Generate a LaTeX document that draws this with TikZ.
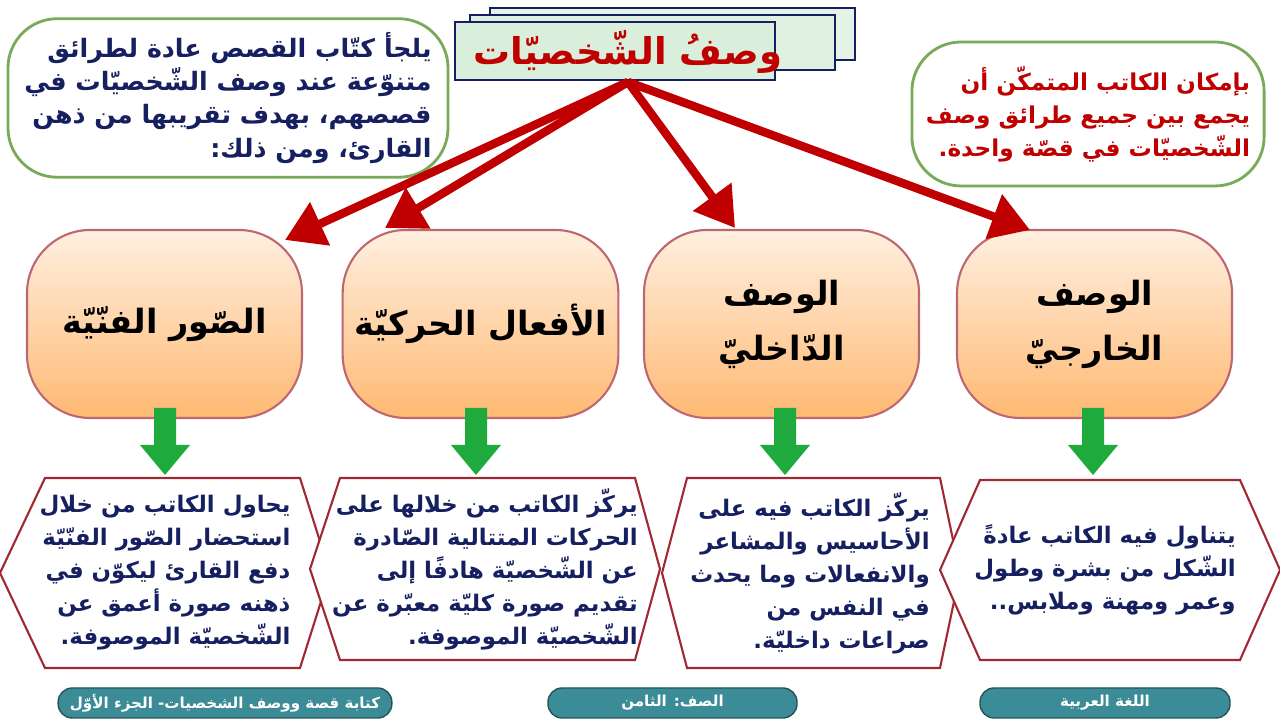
\documentclass[tikz,border=0pt]{standalone}
\usepackage{fontspec}
\newfontfamily\arabicfont[Script=Arabic]{DejaVu Sans}
\usetikzlibrary{%
        arrows.meta,
        positioning,
        shapes.geometric
    }
\TeXXeTstate=1
\newcommand{\AR}[1]{{\arabicfont\beginR #1\endR}}
\definecolor{navy}{RGB}{22, 32, 96}
\definecolor{darkred}{RGB}{192, 0, 0}
\definecolor{boxred}{RGB}{160, 40, 50}
\definecolor{leafgreen}{RGB}{120, 170, 90}
\definecolor{arrowgreen}{RGB}{30, 170, 60}
\definecolor{teal}{RGB}{60, 140, 152}
\definecolor{cardfill}{RGB}{218, 238, 220}
\tikzset{%
    note/.style={draw=leafgreen, line width=0.8pt, rounded corners=14pt,
        fill=white, font=\bfseries\fontsize{7.2}{9.4}\selectfont, align=right,
        inner sep=4pt},
    method/.style={draw=boxred!70, line width=0.6pt, rounded corners=18pt,
        top color=orange!12, bottom color=orange!55, minimum width=2.75cm,
        minimum height=1.88cm, font=\bfseries\fontsize{9.5}{15.6}\selectfont,
        align=center},
    link/.style={-{Triangle[length=11pt, width=13pt]}, darkred,
        line width=2.4pt},
    pill/.style={draw=teal!60!black, fill=teal, text=white, rounded corners=4pt,
        minimum height=0.3cm, font=\bfseries\fontsize{4.3}{5}\selectfont,
        inner ysep=1pt},
    hexa/.style={draw=boxred, line width=0.6pt, fill=white},
    hextext/.style={font=\bfseries\fontsize{6.5}{9.4}\selectfont, text=navy,
        align=right}
}

\begin{document}
\begin{tikzpicture}

    \useasboundingbox (0, 0) rectangle (12.8, 7.2);

    % Title cards
    \draw[navy, fill=cardfill!70] (4.9, 6.6) rectangle (8.55, 7.12);
    \draw[navy, fill=cardfill!85] (4.7, 6.5) rectangle (8.35, 7.05);
    \draw[navy, fill=cardfill] (4.55, 6.4) rectangle (7.75, 6.98);
    \node (title) at (6.28, 6.68)
        {\bfseries\fontsize{10.5}{13}\selectfont\color{darkred}\AR{وصفُ الشّخصيّات}};
    \coordinate (hub) at (6.28, 6.38);

    % Side notes
    \node[note, text=navy, minimum width=4.4cm, minimum height=1.47cm]
        (intro) at (2.28, 6.22)
        {\AR{يلجأ كتّاب القصص عادة لطرائق}\\\AR{متنوّعة عند وصف الشّخصيّات في}\\
         \AR{قصصهم، بهدف تقريبها من ذهن}\\\AR{القارئ، ومن ذلك:}};
    \node[note, text=darkred, minimum width=3.45cm, minimum height=1.44cm,
        font=\bfseries\fontsize{6.6}{9.4}\selectfont]
        (tip) at (10.88, 6.06)
        {\AR{بإمكان الكاتب المتمكّن أن}\\\AR{يجمع بين جميع طرائق وصف}\\
         \AR{الشّخصيّات في قصّة واحدة.}};

    % Methods
    \node[method] (images) at (1.645, 3.96) {\AR{الصّور الفنّيّة}};
    \node[method] (actions) at (4.805, 3.96) {\AR{الأفعال الحركيّة}};
    \node[method] (inner) at (7.815, 3.96) {\AR{الوصف}\\\AR{الدّاخليّ}};
    \node[method] (outer) at (10.945, 3.96) {\AR{الوصف}\\\AR{الخارجيّ}};

    \coordinate (t1) at (2.85, 4.8);
    \coordinate (t2) at (3.85, 4.92);
    \coordinate (t3) at (7.35, 4.92);
    \coordinate (t4) at (10.3, 4.9);
    \foreach \t in {t1, t2, t3, t4}{%
        \draw[link] (hub) -- (\t);
    };

    % Details
    \draw[hexa] (0, 1.47) -- (0.45, 2.42) -- (3.0, 2.42) -- (3.3, 1.47)
        -- (3.0, 0.52) -- (0.45, 0.52) -- cycle;
    \draw[hexa] (3.1, 1.51) -- (3.4, 2.42) -- (6.35, 2.42) -- (6.6, 1.51)
        -- (6.35, 0.6) -- (3.4, 0.6) -- cycle;
    \draw[hexa] (6.62, 1.47) -- (6.87, 2.42) -- (9.4, 2.42) -- (9.6, 1.47)
        -- (9.4, 0.52) -- (6.87, 0.52) -- cycle;
    \draw[hexa] (9.4, 1.5) -- (9.8, 2.4) -- (12.4, 2.4) -- (12.8, 1.5)
        -- (12.4, 0.6) -- (9.8, 0.6) -- cycle;

    \node[hextext] (d1) at (1.65, 1.47)
        {\AR{يحاول الكاتب من خلال}\\\AR{استحضار الصّور الفنّيّة}\\
         \AR{دفع القارئ ليكوّن في}\\\AR{ذهنه صورة أعمق عن}\\
         \AR{الشّخصيّة الموصوفة.}};
    \node[hextext] (d2) at (4.85, 1.51)
        {\AR{يركّز الكاتب من خلالها على}\\\AR{الحركات المتتالية الصّادرة}\\
         \AR{عن الشّخصيّة هادفًا إلى}\\\AR{تقديم صورة كليّة معبّرة عن}\\
         \AR{الشّخصيّة الموصوفة.}};
    \node[hextext] (d3) at (8.1, 1.47)
        {\AR{يركّز الكاتب فيه على}\\\AR{الأحاسيس والمشاعر}\\
         \AR{والانفعالات وما يحدث}\\\AR{في النفس من}\\
         \AR{صراعات داخليّة.}};
    \node[hextext] (d4) at (11.05, 1.5)
        {\AR{يتناول فيه الكاتب عادةً}\\\AR{الشّكل من بشرة وطول}\\
         \AR{وعمر ومهنة وملابس..}};

    % Green arrows
    \foreach \x in {1.65, 4.76, 7.85, 10.93}{%
        \fill[arrowgreen] (\x-0.11, 3.12) -- (\x+0.11, 3.12) -- (\x+0.11, 2.75)
            -- (\x+0.25, 2.75) -- (\x, 2.45) -- (\x-0.25, 2.75)
            -- (\x-0.11, 2.75) -- cycle;
    };

    % Footer
    \node[pill, minimum width=3.26cm] (part) at (2.25, 0.17)
        {\AR{كتابة قصة ووصف الشخصيات- الجزء الأوّل}};
    \node[pill, minimum width=2.49cm] (grade) at (6.725, 0.17)
        {\AR{الصف: الثامن}};
    \node[pill, minimum width=2.5cm] (subject) at (11.05, 0.17)
        {\AR{اللغة العربية}};

\end{tikzpicture}
\end{document}
